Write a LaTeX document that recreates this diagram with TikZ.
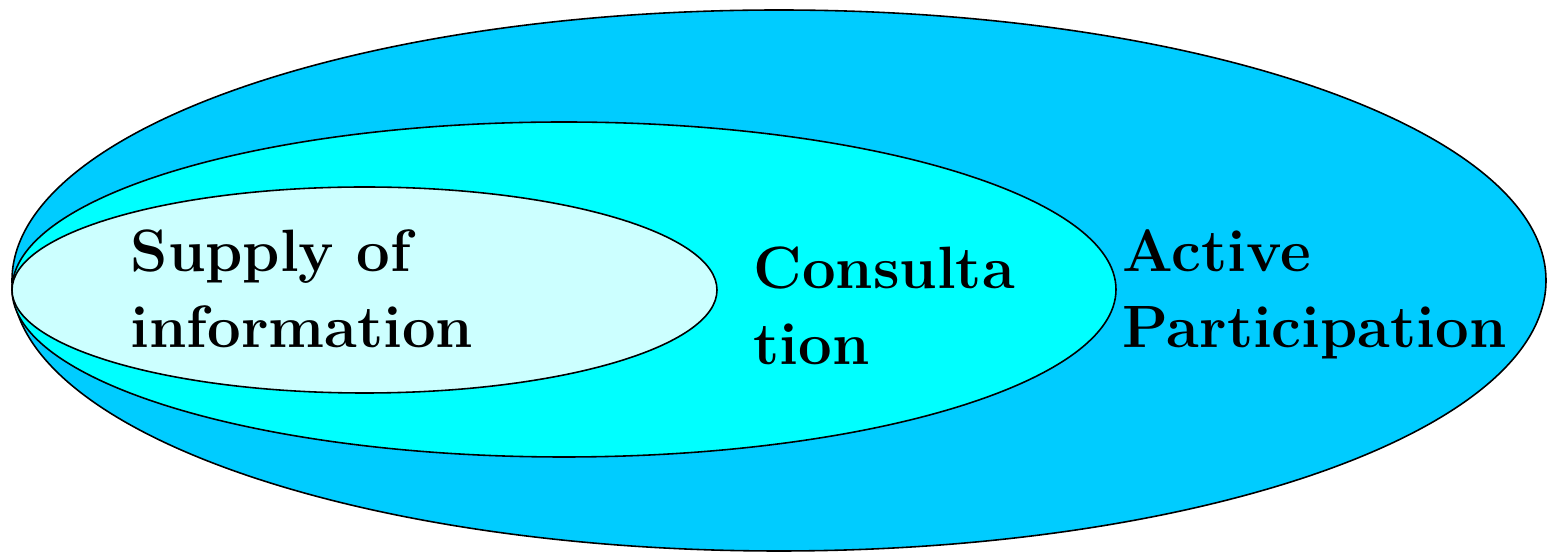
\documentclass[tikz,border=0pt]{standalone}
\usepackage{xcolor}
\usepackage{tikz}
\usetikzlibrary{positioning}

\definecolor{outerblue}{HTML}{00CCFF}
\definecolor{midcyan}{HTML}{00FFFF}
\definecolor{innercyan}{HTML}{CCFFFF}

\begin{document}
\begin{tikzpicture}[
  x=0.01cm, y=-0.01cm,
  ring/.style={draw=black, line width=0.45pt},
  lbl/.style={
    anchor=north west, inner sep=0pt, align=left,
    font=\fontsize{17}{21.6}\selectfont\bfseries}
]
\useasboundingbox (0,0) rectangle (1547,552);

%% Nested levels
\fill[outerblue] (779,280.5) ellipse [x radius=767, y radius=270.5];
\draw[ring]      (779,280.5) ellipse [x radius=767, y radius=270.5];
\fill[midcyan]   (564,289.5) ellipse [x radius=552, y radius=167.5];
\draw[ring]      (564,289.5) ellipse [x radius=552, y radius=167.5];
\fill[innercyan] (364.5,290) ellipse [x radius=352.5, y radius=103];
\draw[ring]      (364.5,290) ellipse [x radius=352.5, y radius=103];

%% Labels
\node[lbl] (supply)  at (130,229)  {Supply of\\information};
\node[lbl] (consult) at (753,246)  {Consulta\\tion};
\node[lbl] (active)  at (1122,229) {Active\\Participation};

\end{tikzpicture}
\end{document}
